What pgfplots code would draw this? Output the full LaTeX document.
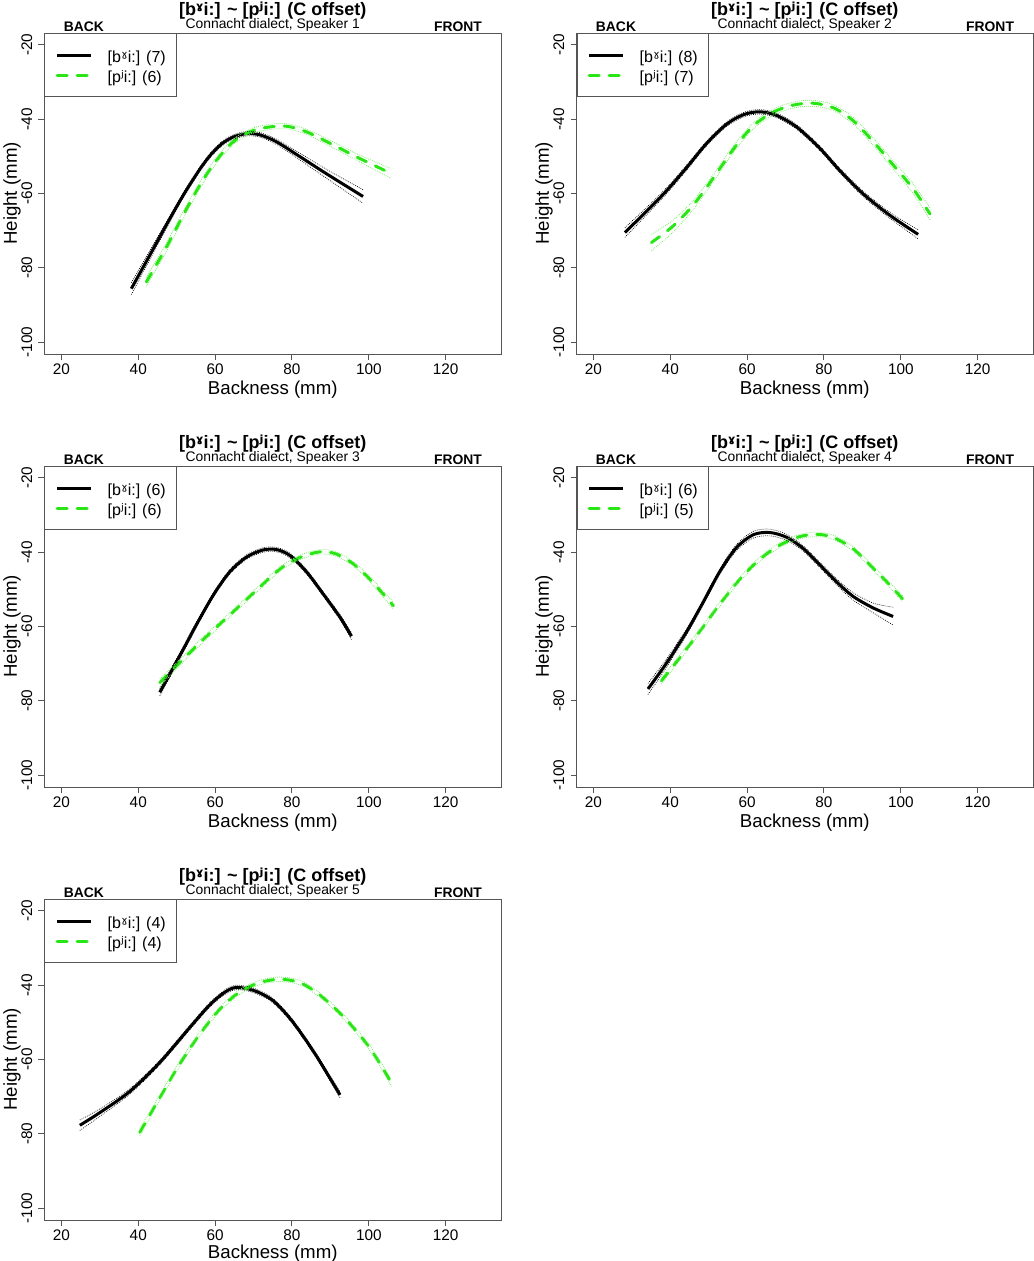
\documentclass[border=0pt]{standalone}
\usepackage{fontspec}
\setmainfont{Liberation Sans}
\newfontfamily\ipafont{DejaVu Sans}
\usepackage{pgfplots}
\usepackage{pgfplotstable}
\pgfplotsset{compat=1.18}

\definecolor{boxgray}{RGB}{85,85,85}
\definecolor{lime}{RGB}{40,230,20}
\definecolor{limeband}{RGB}{120,240,100}

\newcommand\ipa[1]{{\ipafont #1}}
\newcommand\bg{[b\ipa{ˠ}i:]}
\newcommand\pj{[p\ipa{ʲ}i:]}

% columns: backness, mean height, lower and upper edge of the band
\pgfplotstableread{
x y lo hi
38.2 -85.6 -87.2 -84.0
43.0 -76.6 -77.8 -75.4
47.3 -68.5 -69.4 -67.6
51.7 -60.5 -61.2 -59.8
56.0 -53.5 -54.1 -52.9
59.0 -49.4 -50.0 -48.8
62.0 -46.4 -47.0 -45.8
65.0 -44.7 -45.3 -44.1
68.2 -43.9 -44.5 -43.3
71.6 -44.2 -44.8 -43.6
76.0 -46.1 -46.8 -45.4
82.1 -50.1 -51.0 -49.2
89.0 -54.7 -55.9 -53.5
98.5 -60.8 -62.6 -59.0
}\bA
\pgfplotstableread{
x y lo hi
42.1 -83.8 -85.0 -82.6
47.3 -74.5 -75.6 -73.4
51.7 -65.8 -66.8 -64.8
56.0 -57.8 -58.7 -56.9
60.4 -51.0 -51.8 -50.2
64.7 -46.1 -46.8 -45.4
69.0 -43.4 -44.1 -42.7
73.4 -42.2 -42.9 -41.5
78.6 -41.9 -42.6 -41.2
83.8 -43.4 -44.1 -42.7
90.7 -46.9 -47.7 -46.1
97.7 -50.6 -51.5 -49.7
105.6 -54.5 -55.8 -53.2
}\gA
\pgfplotstableread{
x y lo hi
28.2 -70.5 -71.8 -69.2
33.8 -64.8 -65.8 -63.8
39.0 -59.3 -60.1 -58.5
44.2 -53.1 -53.8 -52.4
49.4 -46.6 -47.2 -46.0
54.6 -41.4 -42.0 -40.8
59.0 -38.8 -39.4 -38.2
63.3 -38.0 -38.6 -37.4
67.7 -39.0 -39.6 -38.4
72.9 -42.1 -42.7 -41.5
78.9 -47.8 -48.4 -47.2
84.1 -53.8 -54.4 -53.2
90.2 -60.1 -60.8 -59.4
97.2 -65.9 -66.7 -65.1
104.5 -71.0 -72.2 -69.8
}\bB
\pgfplotstableread{
x y lo hi
35.1 -73.2 -75.4 -71.0
40.7 -68.8 -70.4 -67.2
45.9 -63.2 -64.4 -62.0
51.1 -56.0 -57.0 -55.0
56.4 -48.1 -49.0 -47.2
61.6 -41.8 -42.6 -41.0
66.8 -38.1 -38.9 -37.3
72.0 -36.2 -37.0 -35.4
77.2 -35.7 -36.5 -34.9
82.4 -36.9 -37.7 -36.1
87.6 -40.4 -41.3 -39.5
92.8 -46.0 -47.0 -45.0
98.0 -52.3 -53.4 -51.2
103.2 -58.7 -60.0 -57.4
107.6 -65.5 -67.1 -63.9
}\gB
\pgfplotstableread{
x y lo hi
45.6 -77.7 -78.7 -76.7
50.8 -67.9 -68.7 -67.1
55.2 -59.4 -60.1 -58.7
59.5 -51.6 -52.2 -51.0
63.8 -45.3 -45.9 -44.7
68.2 -41.3 -41.9 -40.7
72.5 -39.4 -40.0 -38.8
76.0 -39.3 -39.9 -38.7
79.5 -40.9 -41.5 -40.3
83.8 -45.3 -45.9 -44.7
88.1 -51.2 -51.8 -50.6
92.5 -57.5 -58.2 -56.8
95.5 -62.6 -63.5 -61.7
}\bC
\pgfplotstableread{
x y lo hi
45.6 -75.1 -76.1 -74.1
50.8 -69.7 -70.5 -68.9
56.9 -63.5 -64.2 -62.8
63.8 -56.9 -57.5 -56.3
70.8 -50.2 -50.8 -49.6
76.8 -44.6 -45.2 -44.0
82.1 -41.4 -42.0 -40.8
87.3 -39.9 -40.5 -39.3
91.6 -40.5 -41.1 -39.9
95.9 -43.1 -43.7 -42.5
100.3 -47.3 -48.0 -46.6
106.4 -54.4 -55.3 -53.5
}\gC
\pgfplotstableread{
x y lo hi
34.2 -76.8 -78.3 -75.3
39.0 -69.9 -71.0 -68.8
44.2 -61.5 -62.3 -60.7
48.5 -53.6 -54.3 -52.9
52.9 -45.2 -45.9 -44.5
57.2 -38.8 -39.6 -38.0
61.6 -35.3 -36.2 -34.4
65.9 -34.7 -35.6 -33.8
70.3 -36.0 -36.8 -35.2
74.6 -39.0 -39.7 -38.3
79.0 -43.5 -44.2 -42.8
83.3 -48.0 -48.8 -47.2
87.6 -51.9 -52.9 -50.9
92.8 -55.0 -56.3 -53.7
98.0 -57.3 -59.6 -54.8
}\bD
\pgfplotstableread{
x y lo hi
37.7 -74.6 -75.5 -73.7
42.5 -68.4 -69.1 -67.7
47.7 -61.3 -61.9 -60.7
52.9 -54.0 -54.6 -53.4
58.1 -47.3 -47.9 -46.7
63.3 -41.9 -42.5 -41.3
68.5 -38.1 -38.7 -37.5
73.7 -35.8 -36.4 -35.2
78.1 -35.2 -35.8 -34.6
82.4 -36.0 -36.6 -35.4
87.6 -39.1 -39.7 -38.5
92.8 -44.3 -44.9 -43.7
97.2 -48.9 -49.6 -48.2
100.5 -52.6 -53.4 -51.8
}\gD
\pgfplotstableread{
x y lo hi
24.8 -77.7 -79.1 -76.3
30.0 -74.3 -75.3 -73.3
37.8 -68.6 -69.3 -67.9
45.6 -60.8 -61.4 -60.2
53.4 -51.4 -52.0 -50.8
58.6 -45.3 -45.9 -44.7
62.5 -41.9 -42.5 -41.3
65.5 -40.6 -41.2 -40.0
70.0 -41.4 -42.0 -40.8
75.0 -44.1 -44.7 -43.5
80.0 -49.6 -50.2 -49.0
85.9 -58.3 -58.9 -57.7
92.5 -69.5 -70.3 -68.7
}\bE
\pgfplotstableread{
x y lo hi
40.4 -79.6 -80.6 -78.6
45.6 -70.3 -71.1 -69.5
50.8 -61.2 -61.9 -60.5
56.0 -53.2 -53.8 -52.6
61.2 -46.5 -47.1 -45.9
66.4 -41.8 -42.4 -41.2
71.6 -39.3 -39.9 -38.7
76.8 -38.4 -39.0 -37.8
82.0 -39.3 -39.9 -38.7
87.2 -42.6 -43.2 -42.0
93.7 -48.8 -49.4 -48.2
100.2 -56.8 -57.5 -56.1
105.9 -66.3 -67.2 -65.4
}\gE

\pgfplotsset{
  panel/.style={
    scale only axis, width=342.375pt, height=240.75pt, anchor=north west,
    xmin=15.6, xmax=134.4, ymin=-103.2, ymax=-16.8,
    xtick={20,40,...,120}, ytick={-100,-80,...,-20},
    tick align=outside, xtick pos=left, ytick pos=left,
    major tick length=4.5pt,
    axis line style={boxgray, line width=0.75pt},
    every tick/.style={boxgray, line width=0.75pt},
    clip=false,
    /pgf/number format/assume math mode=true,
    ticklabel style={font=\fontsize{11.5}{13}\selectfont},
    yticklabel style={xshift=-4.85pt, rotate=90, anchor=base, inner sep=0pt},
    xticklabel style={anchor=north, inner sep=0pt, yshift=-3pt},
    xlabel={Backness (mm)}, ylabel={Height (mm)},
    label style={font=\fontsize{14}{16}\selectfont},
    xlabel style={at={(axis description cs:0.5,-0.111)}, anchor=center},
    ylabel style={at={(axis description cs:-0.0712,0.5)}, anchor=center},
    legend style={at={(0,1)}, anchor=north west, draw=boxgray, line width=0.75pt,
      fill=white, inner xsep=8pt, inner ysep=8.6pt,
      font=\fontsize{12}{14}\selectfont,
      nodes={inner sep=0pt, text height=13.5pt, text depth=1.5pt},
      row sep=0pt, column sep=11.25pt},
    legend cell align=left,
    legend image code/.code={\draw[##1] (0pt,-0.5pt) -- (25.5pt,-0.5pt);},
  },
  meanb/.style={black, line width=2.25pt, smooth},
  meang/.style={lime, line width=2.25pt, smooth, line cap=round, dash pattern=on 7.5pt off 7.5pt},
  bandb/.style={black, line width=0.5pt, smooth, dash pattern=on 0.6pt off 0.9pt, forget plot},
  bandg/.style={limeband, line width=0.6pt, smooth, dash pattern=on 0.6pt off 0.9pt, forget plot},
}

\newcommand\paneltext[1]{%
  \node[anchor=base, yshift=13.5pt, font=\bfseries\fontsize{13.5}{16}\selectfont]
    at (rel axis cs:0.5,1) {\bg{} \textasciitilde{} \pj{} (C offset)};
  \node[anchor=base, yshift=3.5pt, font=\fontsize{10.4}{12}\selectfont]
    at (rel axis cs:0.5,1) {Connacht dialect, Speaker #1};
  \node[anchor=base, yshift=1pt, font=\bfseries\fontsize{10.4}{12}\selectfont]
    at (rel axis cs:0.0865,1) {BACK};
  \node[anchor=base, yshift=1pt, font=\bfseries\fontsize{10.4}{12}\selectfont]
    at (rel axis cs:0.906,1) {FRONT};
}

\begin{document}
\begin{tikzpicture}
\path[use as bounding box] (0,0) rectangle (774.75pt,-945.75pt);

\begin{axis}[panel, at={(33.375pt,-24.75pt)}]
  \addplot[meanb] table[y=y] {\bA}; \addlegendentry{\bg{} (7)}
  \addplot[meang] table[y=y] {\gA}; \addlegendentry{\pj{} (6)}
  \addplot[bandb] table[y=lo] {\bA};
  \addplot[bandb] table[y=hi] {\bA};
  \addplot[bandg] table[y=lo] {\gA};
  \addplot[bandg] table[y=hi] {\gA};
  \paneltext{1}
\end{axis}

\begin{axis}[panel, at={(432.375pt,-24.75pt)}]
  \addplot[meanb] table[y=y] {\bB}; \addlegendentry{\bg{} (8)}
  \addplot[meang] table[y=y] {\gB}; \addlegendentry{\pj{} (7)}
  \addplot[bandb] table[y=lo] {\bB};
  \addplot[bandb] table[y=hi] {\bB};
  \addplot[bandg] table[y=lo] {\gB};
  \addplot[bandg] table[y=hi] {\gB};
  \paneltext{2}
\end{axis}

\begin{axis}[panel, at={(33.375pt,-349.5pt)}]
  \addplot[meanb] table[y=y] {\bC}; \addlegendentry{\bg{} (6)}
  \addplot[meang] table[y=y] {\gC}; \addlegendentry{\pj{} (6)}
  \addplot[bandb] table[y=lo] {\bC};
  \addplot[bandb] table[y=hi] {\bC};
  \addplot[bandg] table[y=lo] {\gC};
  \addplot[bandg] table[y=hi] {\gC};
  \paneltext{3}
\end{axis}

\begin{axis}[panel, at={(432.375pt,-349.5pt)}]
  \addplot[meanb] table[y=y] {\bD}; \addlegendentry{\bg{} (6)}
  \addplot[meang] table[y=y] {\gD}; \addlegendentry{\pj{} (5)}
  \addplot[bandb] table[y=lo] {\bD};
  \addplot[bandb] table[y=hi] {\bD};
  \addplot[bandg] table[y=lo] {\gD};
  \addplot[bandg] table[y=hi] {\gD};
  \paneltext{4}
\end{axis}

\begin{axis}[panel, at={(33.375pt,-674.25pt)},
    xlabel style={at={(axis description cs:0.5,-0.104)}}]
  \addplot[meanb] table[y=y] {\bE}; \addlegendentry{\bg{} (4)}
  \addplot[meang] table[y=y] {\gE}; \addlegendentry{\pj{} (4)}
  \addplot[bandb] table[y=lo] {\bE};
  \addplot[bandb] table[y=hi] {\bE};
  \addplot[bandg] table[y=lo] {\gE};
  \addplot[bandg] table[y=hi] {\gE};
  \paneltext{5}
\end{axis}
\end{tikzpicture}
\end{document}
